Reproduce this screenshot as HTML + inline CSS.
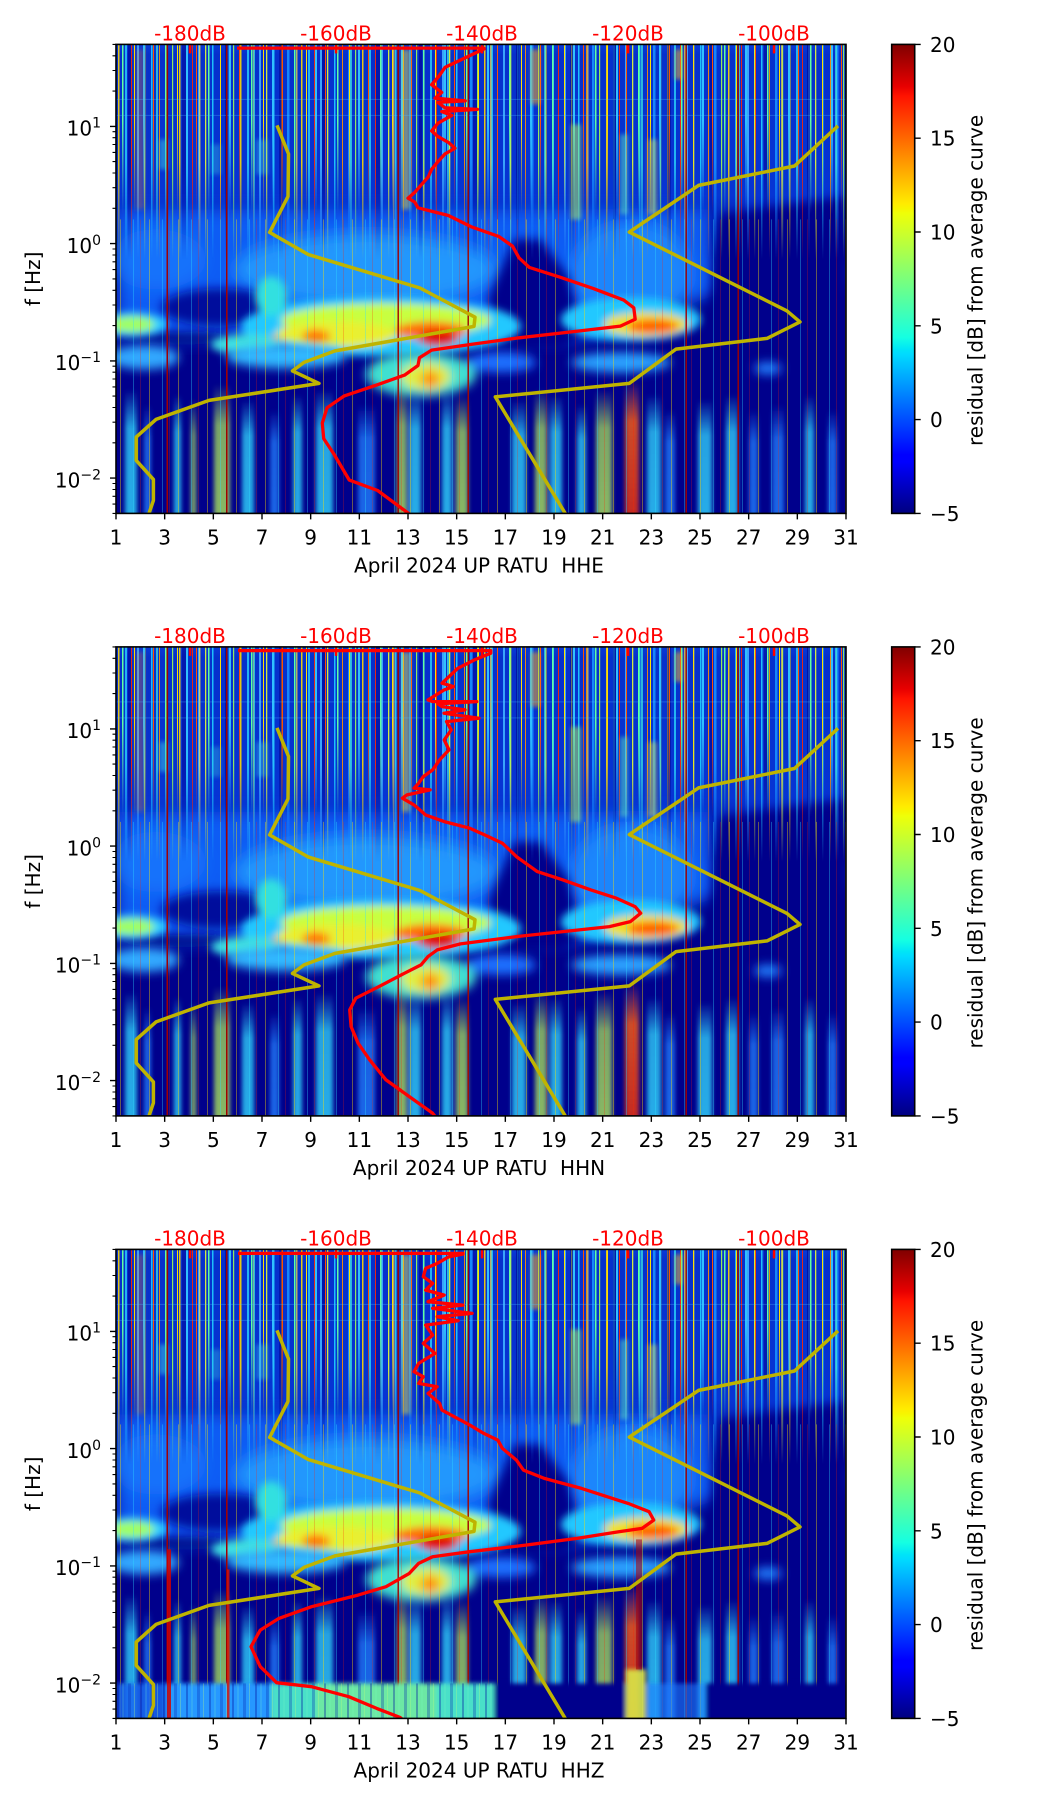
<!DOCTYPE html>
<html><head><meta charset="utf-8">
<style>
html,body{margin:0;padding:0;background:#fff;}
svg{display:block;}
text{font-family:"DejaVu Sans","Liberation Sans",sans-serif;font-size:20px;fill:#000;}
</style></head><body>
<svg width="1052" height="1806" viewBox="0 0 1052 1806" xmlns="http://www.w3.org/2000/svg">
<defs>
 <clipPath id="plot"><rect x="0" y="0" width="730" height="469"/></clipPath>
 <filter id="b8" x="-50%" y="-50%" width="200%" height="200%"><feGaussianBlur stdDeviation="8"/></filter>
 <filter id="b5" x="-50%" y="-50%" width="200%" height="200%"><feGaussianBlur stdDeviation="5"/></filter>
 <filter id="b4" x="-50%" y="-50%" width="200%" height="200%"><feGaussianBlur stdDeviation="4"/></filter>
 <filter id="b2" x="-50%" y="-50%" width="200%" height="200%"><feGaussianBlur stdDeviation="2.2"/></filter>
 <linearGradient id="jet" x1="0" y1="1" x2="0" y2="0">
  <stop offset="0" stop-color="#000080"/>
  <stop offset="0.11" stop-color="#0000ff"/>
  <stop offset="0.125" stop-color="#0000ff"/>
  <stop offset="0.34" stop-color="#00dbff"/>
  <stop offset="0.35" stop-color="#00e5f7"/>
  <stop offset="0.375" stop-color="#15ffe2"/>
  <stop offset="0.5" stop-color="#7bff7b"/>
  <stop offset="0.64" stop-color="#efff08"/>
  <stop offset="0.65" stop-color="#f7f500"/>
  <stop offset="0.66" stop-color="#ffec00"/>
  <stop offset="0.89" stop-color="#ff1300"/>
  <stop offset="0.91" stop-color="#e80000"/>
  <stop offset="1" stop-color="#800000"/>
 </linearGradient>
 <linearGradient id="topg" x1="0" y1="0" x2="0" y2="210" gradientUnits="userSpaceOnUse">
  <stop offset="0" stop-color="#0a3ad8"/>
  <stop offset="0.05" stop-color="#0630cc"/>
  <stop offset="0.72" stop-color="#0634d4"/>
  <stop offset="1" stop-color="#0a40e0" stop-opacity="0"/>
 </linearGradient>
 <linearGradient id="mg1" x1="0" y1="0" x2="0" y2="215" gradientUnits="userSpaceOnUse">
  <stop offset="0" stop-color="#fff"/>
  <stop offset="0.55" stop-color="#fff"/>
  <stop offset="1" stop-color="#000"/>
 </linearGradient>
 <linearGradient id="mg2" x1="0" y1="0" x2="0" y2="170" gradientUnits="userSpaceOnUse">
  <stop offset="0" stop-color="#fff"/>
  <stop offset="0.45" stop-color="#fff"/>
  <stop offset="1" stop-color="#000"/>
 </linearGradient>
 <mask id="m1" maskUnits="userSpaceOnUse" x="0" y="0" width="730" height="469"><rect x="0" y="0" width="730" height="469" fill="url(#mg1)"/></mask>
 <mask id="m2" maskUnits="userSpaceOnUse" x="0" y="0" width="730" height="469"><rect x="0" y="0" width="730" height="469" fill="url(#mg2)"/></mask>
 <linearGradient id="fc" x1="0" y1="0" x2="0" y2="1"><stop offset="0" stop-color="#30d8ff" stop-opacity="0"/><stop offset="0.3" stop-color="#30d8ff" stop-opacity="0.75"/><stop offset="1" stop-color="#30d8ff" stop-opacity="0.8"/></linearGradient>
 <linearGradient id="fy" x1="0" y1="0" x2="0" y2="1"><stop offset="0" stop-color="#b0ec58" stop-opacity="0"/><stop offset="0.3" stop-color="#b0ec58" stop-opacity="0.7"/><stop offset="1" stop-color="#b0ec58" stop-opacity="0.78"/></linearGradient>
 <linearGradient id="fb" x1="0" y1="0" x2="0" y2="1"><stop offset="0" stop-color="#2080ff" stop-opacity="0"/><stop offset="0.3" stop-color="#2080ff" stop-opacity="0.75"/><stop offset="1" stop-color="#2080ff" stop-opacity="0.8"/></linearGradient>
 <linearGradient id="fo" x1="0" y1="0" x2="0" y2="1"><stop offset="0" stop-color="#ff7020" stop-opacity="0"/><stop offset="0.3" stop-color="#ff6010" stop-opacity="0.8"/><stop offset="1" stop-color="#e83010" stop-opacity="0.85"/></linearGradient>
 <pattern id="st1" patternUnits="userSpaceOnUse" width="61" height="469">
  <rect x="2" width="1.5" height="469" fill="#ffd800"/>
  <rect x="9" width="2" height="469" fill="#30e8ff" opacity=".8"/>
  <rect x="15" width="1" height="469" fill="#ff2800"/>
  <rect x="21" width="2" height="469" fill="#40b0ff"/>
  <rect x="28" width="1.3" height="469" fill="#e8ff30"/>
  <rect x="35" width="1.5" height="469" fill="#20d0ff"/>
  <rect x="43" width="1" height="469" fill="#ff9000"/>
  <rect x="49" width="2.5" height="469" fill="#1890ff"/>
  <rect x="56" width="1.2" height="469" fill="#a0ff50"/>
 </pattern>
 <pattern id="st2" patternUnits="userSpaceOnUse" width="43" height="469">
  <rect x="6" width="1.5" height="469" fill="#60ffa0"/>
  <rect x="18" width="1" height="469" fill="#ffe000"/>
  <rect x="27" width="2" height="469" fill="#30c0ff"/>
  <rect x="37" width="1" height="469" fill="#ff5000"/>
 </pattern>
 <pattern id="st4" patternUnits="userSpaceOnUse" width="97" height="469">
  <rect x="12" width="3" height="469" fill="#000090" opacity=".6"/>
  <rect x="40" width="2" height="469" fill="#40f0e0" opacity=".7"/>
  <rect x="66" width="4" height="469" fill="#000090" opacity=".5"/>
  <rect x="83" width="1.5" height="469" fill="#ffe040" opacity=".7"/>
 </pattern>
 <pattern id="st3" patternUnits="userSpaceOnUse" width="29" height="469">
  <rect x="4" width="1" height="469" fill="#ffe000" opacity=".4"/>
  <rect x="17" width="1" height="469" fill="#30e0ff" opacity=".35"/>
  <rect x="24" width="0.8" height="469" fill="#ff2000" opacity=".3"/>
 </pattern>
 <pattern id="nv" patternUnits="userSpaceOnUse" width="23" height="469">
  <rect x="1" width="2" height="469" fill="#0010a0" opacity=".35"/>
  <rect x="6.5" width="1" height="469" fill="#80ffc0" opacity=".3"/>
  <rect x="12" width="3" height="469" fill="#0020b0" opacity=".3"/>
  <rect x="18" width="1" height="469" fill="#c0ff80" opacity=".3"/>
 </pattern>

 <g id="bg">
  <rect x="0" y="0" width="730" height="469" fill="#00008c"/>
  <rect x="0" y="0" width="730" height="210" fill="url(#topg)"/>
  <g filter="url(#b8)">
   <polygon points="0,165 592,165 602,250 470,295 0,295" fill="#0c5cf4"/>
   <ellipse cx="250" cy="225" rx="130" ry="35" fill="#2aa6ff" opacity=".8"/>
   <ellipse cx="515" cy="228" rx="60" ry="50" fill="#2094ff" opacity=".75"/>
   <ellipse cx="40" cy="215" rx="50" ry="30" fill="#1a80ff" opacity=".6"/>
   <ellipse cx="690" cy="228" rx="45" ry="22" fill="#0840d0" opacity=".45"/>
  </g>
  <g filter="url(#b5)">
   <polygon points="398,195 425,195 452,232 468,290 445,305 385,305 372,255" fill="#00008c"/>
   <polygon points="604,170 730,152 730,469 585,469 583,300 596,245" fill="#00008c"/>
   <ellipse cx="105" cy="263" rx="60" ry="19" fill="#00109c"/>
   <ellipse cx="60" cy="294" rx="62" ry="6" fill="#00108c"/>
   <rect x="0" y="335" width="730" height="140" fill="#00008c"/>
  </g>
  <g filter="url(#b4)">
   <ellipse cx="265" cy="282" rx="140" ry="30" fill="#20c8ff"/>
   <ellipse cx="270" cy="276" rx="105" ry="17" fill="#c8ff40"/>
   <ellipse cx="220" cy="290" rx="60" ry="13" fill="#e8f030"/>
   <ellipse cx="155" cy="252" rx="16" ry="20" fill="#30e0e0"/>
   <ellipse cx="16" cy="280" rx="35" ry="12" fill="#30d0ff"/>
   <ellipse cx="16" cy="280" rx="22" ry="8" fill="#a0ff60"/>
   <ellipse cx="315" cy="286" rx="36" ry="9" fill="#ff7000"/>
   <ellipse cx="322" cy="294" rx="20" ry="8" fill="#e01000"/>
   <ellipse cx="200" cy="292" rx="14" ry="7" fill="#ff8000"/>
   <ellipse cx="156" cy="298" rx="10" ry="6" fill="#ff3000"/>
   <ellipse cx="130" cy="300" rx="35" ry="10" fill="#40e0e0"/>
   <ellipse cx="515" cy="275" rx="70" ry="22" fill="#20c8ff"/>
   <ellipse cx="530" cy="280" rx="42" ry="12" fill="#f0e020"/>
   <ellipse cx="537" cy="282" rx="25" ry="7" fill="#ff6000"/>
  </g>
  <g filter="url(#b5)">
   <ellipse cx="28" cy="313" rx="35" ry="12" fill="#30a8ff"/>
   <ellipse cx="170" cy="312" rx="60" ry="12" fill="#30b8ff"/>
   <ellipse cx="385" cy="318" rx="35" ry="10" fill="#1e70ff"/>
   <ellipse cx="305" cy="330" rx="55" ry="22" fill="#40e0d0"/>
   <ellipse cx="310" cy="332" rx="25" ry="14" fill="#e0f040"/>
   <ellipse cx="314" cy="335" rx="10" ry="8" fill="#ff9000"/>
   <ellipse cx="505" cy="318" rx="50" ry="10" fill="#2aa0ff"/>
   <ellipse cx="652" cy="324" rx="14" ry="6" fill="#2080ff"/>
  </g>
  <g filter="url(#b2)">
   <rect x="9" y="345" width="12" height="130" fill="url(#fc)"/>
   <rect x="28" y="360" width="7" height="115" fill="url(#fb)"/>
   <rect x="58" y="350" width="7" height="125" fill="url(#fc)"/>
   <rect x="75" y="355" width="5" height="120" fill="url(#fy)"/>
   <rect x="98" y="340" width="16" height="135" fill="url(#fy)"/>
   <rect x="126" y="355" width="12" height="120" fill="url(#fc)"/>
   <rect x="154" y="365" width="9" height="110" fill="url(#fb)"/>
   <rect x="177" y="350" width="9" height="125" fill="url(#fc)"/>
   <rect x="200" y="345" width="17" height="130" fill="url(#fc)"/>
   <rect x="242" y="360" width="17" height="115" fill="url(#fb)"/>
   <rect x="281" y="340" width="10" height="135" fill="url(#fy)"/>
   <rect x="293" y="345" width="12" height="130" fill="url(#fc)"/>
   <rect x="326" y="345" width="10" height="130" fill="url(#fc)"/>
   <rect x="340" y="350" width="12" height="125" fill="url(#fy)"/>
   <rect x="396" y="355" width="14" height="120" fill="url(#fc)"/>
   <rect x="419" y="345" width="12" height="130" fill="url(#fy)"/>
   <rect x="434" y="350" width="12" height="125" fill="url(#fc)"/>
   <rect x="461" y="360" width="9" height="115" fill="url(#fc)"/>
   <rect x="480" y="345" width="16" height="130" fill="url(#fy)"/>
   <rect x="509" y="335" width="14" height="140" fill="url(#fo)"/>
   <rect x="531" y="350" width="14" height="125" fill="url(#fc)"/>
   <rect x="549" y="365" width="10" height="110" fill="url(#fb)"/>
   <rect x="582" y="355" width="14" height="120" fill="url(#fc)"/>
   <rect x="610" y="350" width="12" height="125" fill="url(#fc)"/>
   <rect x="633" y="365" width="9" height="110" fill="url(#fb)"/>
   <rect x="656" y="360" width="12" height="115" fill="url(#fb)"/>
   <rect x="689" y="350" width="9" height="125" fill="url(#fc)"/>
   <rect x="712" y="365" width="9" height="110" fill="url(#fb)"/>
  </g>
  <g mask="url(#m1)">
   <rect x="0" y="0" width="730" height="215" fill="url(#st1)" opacity=".9"/>
   <rect x="0" y="0" width="730" height="215" fill="url(#st4)"/>
  </g>
  <g mask="url(#m2)">
   <rect x="0" y="0" width="730" height="170" fill="url(#st2)"/>
  </g>
  <rect x="0" y="175" width="730" height="294" fill="url(#st3)"/>
  <g filter="url(#b2)">
   <rect x="286" y="5" width="8" height="160" fill="#f0f040" opacity=".5"/>
   <rect x="415" y="5" width="9" height="55" fill="#ffb020" opacity=".55"/>
   <rect x="455" y="80" width="10" height="95" fill="#c0ff50" opacity=".5"/>
   <rect x="504" y="90" width="8" height="80" fill="#60f0c0" opacity=".5"/>
   <rect x="532" y="95" width="9" height="75" fill="#f0f040" opacity=".45"/>
   <rect x="559" y="5" width="7" height="30" fill="#ffc020" opacity=".55"/>
   <rect x="20" y="5" width="8" height="160" fill="#ff8020" opacity=".3"/>
   <rect x="43" y="95" width="9" height="30" fill="#40e0e0" opacity=".45"/>
   <rect x="140" y="95" width="12" height="35" fill="#40d0e0" opacity=".4"/>
   <rect x="95" y="100" width="10" height="30" fill="#40d0e0" opacity=".35"/>
  </g>
  <rect x="0" y="54.5" width="730" height="1" fill="#50c8ff" opacity=".3"/>
  <rect x="0" y="70.5" width="730" height="1" fill="#50c8ff" opacity=".3"/>
  <g fill="#a00000">
   <rect x="50.5" y="0" width="1.6" height="469"/>
   <rect x="110" y="0" width="1.4" height="469"/>
   <rect x="281.5" y="0" width="1.4" height="469"/>
   <rect x="351.5" y="0" width="1.4" height="469"/>
   <rect x="569.5" y="0" width="1.4" height="469"/>
   <rect x="621.5" y="0" width="1.4" height="469"/>
  </g>
 </g>

 <g id="models" fill="none" stroke="#bfb400" stroke-width="3.5" stroke-linejoin="round">
  <polyline points="161,81 172.5,109.5 172,152 153.6,188 192,210 304,243.6 359,272.8 358,282 219,306.5 188,318 176.5,326.5 203,339 93,356 40,375 20.2,392.7 20.2,416 37.4,435 37.4,456 32,472"/>
  <polyline points="722,81.5 678.5,121.6 582.5,141 513.3,187.7 671,266.5 684,277.5 651,294 560,304.7 513.3,339 379.3,352.5 451,472"/>
 </g>
 <g id="dbt" fill="#ff0000">
  <rect x="72.8" y="0" width="2.5" height="9"/>
  <rect x="218.8" y="0" width="2.5" height="9"/>
  <rect x="364.8" y="0" width="2.5" height="9"/>
  <rect x="510.8" y="0" width="2.5" height="9"/>
  <rect x="656.8" y="0" width="2.5" height="9"/>
 </g>

 <g id="axes">
  <rect x="0" y="0" width="730" height="469" fill="none" stroke="#000" stroke-width="1.6"/>
  <g stroke="#000" stroke-width="1.4">
   <path d="M0,469v6M48.67,469v6M97.33,469v6M146,469v6M194.67,469v6M243.33,469v6M292,469v6M340.67,469v6M389.33,469v6M438,469v6M486.67,469v6M535.33,469v6M584,469v6M632.67,469v6M681.33,469v6M730,469v6"/>
   <path d="M0,82h-6M0,199.2h-6M0,316.5h-6M0,433.7h-6"/>
   <path stroke-width="1.1" d="M0,469h-3.5M0,459.7h-3.5M0,451.9h-3.5M0,445.1h-3.5M0,439.1h-3.5M0,398.4h-3.5M0,377.8h-3.5M0,363.1h-3.5M0,351.7h-3.5M0,342.5h-3.5M0,334.6h-3.5M0,327.8h-3.5M0,321.8h-3.5M0,281.2h-3.5M0,260.6h-3.5M0,245.9h-3.5M0,234.5h-3.5M0,225.2h-3.5M0,217.4h-3.5M0,210.6h-3.5M0,204.6h-3.5M0,163.9h-3.5M0,143.3h-3.5M0,128.6h-3.5M0,117.2h-3.5M0,108h-3.5M0,100.1h-3.5M0,93.3h-3.5M0,87.3h-3.5M0,46.7h-3.5M0,26.1h-3.5M0,11.4h-3.5M0,0h-3.5"/>
   <path d="M798.7,0h6M798.7,93.8h6M798.7,187.6h6M798.7,281.4h6M798.7,375.2h6M798.7,469h6"/>
  </g>
  <g text-anchor="middle">
   <text x="0" y="500">1</text><text x="48.67" y="500">3</text><text x="97.33" y="500">5</text><text x="146" y="500">7</text>
   <text x="194.67" y="500">9</text><text x="243.33" y="500">11</text><text x="292" y="500">13</text><text x="340.67" y="500">15</text>
   <text x="389.33" y="500">17</text><text x="438" y="500">19</text><text x="486.67" y="500">21</text><text x="535.33" y="500">23</text>
   <text x="584" y="500">25</text><text x="632.67" y="500">27</text><text x="681.33" y="500">29</text><text x="730" y="500">31</text>
  </g>
  <g text-anchor="middle">
   <text x="74" y="-4" style="fill:#ff0000">-180dB</text>
   <text x="220" y="-4" style="fill:#ff0000">-160dB</text>
   <text x="366" y="-4" style="fill:#ff0000">-140dB</text>
   <text x="512" y="-4" style="fill:#ff0000">-120dB</text>
   <text x="658" y="-4" style="fill:#ff0000">-100dB</text>
  </g>
  <g text-anchor="end">
   <text x="-15" y="91.3">10<tspan dy="-8" font-size="14">1</tspan></text>
   <text x="-15" y="208.5">10<tspan dy="-8" font-size="14">0</tspan></text>
   <text x="-15" y="325.8">10<tspan dy="-8" font-size="14">−1</tspan></text>
   <text x="-15" y="443">10<tspan dy="-8" font-size="14">−2</tspan></text>
  </g>
  <text transform="translate(-76,234.5) rotate(-90)" text-anchor="middle">f [Hz]</text>
  <rect x="775.7" y="0" width="23" height="469" fill="url(#jet)" stroke="#000" stroke-width="1.6"/>
  <g>
   <text x="814" y="7.5">20</text>
   <text x="814" y="101.3">15</text>
   <text x="814" y="195.1">10</text>
   <text x="814" y="288.9">5</text>
   <text x="814" y="382.7">0</text>
   <text x="814" y="476.5">−5</text>
  </g>
  <text transform="translate(866.5,236) rotate(-90)" text-anchor="middle">residual [dB] from average curve</text>
 </g>
</defs>

<!-- Panel 1: HHE -->
<g transform="translate(116,44.4)">
 <g clip-path="url(#plot)">
  <use href="#bg"/>
  <use href="#models"/>
  <polyline fill="none" stroke="#ff0000" stroke-width="3.3" stroke-linejoin="round" points="121,3.7 368,3.7 368.2,4.5 349.3,13.4 329,23 322.3,32.6 315.6,40.3 325.7,48 319,53.8 349.3,56.5 322,58 329,63.4 361.4,65 325.7,67.2 335.8,71 322,78.8 315.6,86.5 322,92.2 332.4,98 339,103.8 329,109.5 322,117.2 315.6,124.9 312.2,132.6 305.4,140.3 298.7,148 292,153.8 298.7,157.6 302,163.4 332.4,171.1 356,182.7 383,192.2 396.5,201.7 403,213.4 413.3,223 443.7,232.7 477.4,244.2 507.7,255.7 517.8,263.4 519.2,274.9 504.4,281.7 464,286.5 403.2,293.4 356,299.9 315.6,305.7 303.4,313.4 302,321.1 288.6,330.7 261.6,340.3 227.9,351.7 211,363.4 206.3,378.7 207.7,394.2 217.8,409.5 233.3,435.7 261.6,446.1 298,473"/>
  <use href="#dbt"/>
 </g>
 <use href="#axes"/>
 <text x="363" y="528" text-anchor="middle">April 2024 UP RATU&#160; HHE</text>
</g>

<!-- Panel 2: HHN -->
<g transform="translate(116,646.9)">
 <g clip-path="url(#plot)">
  <use href="#bg"/>
  <use href="#models"/>
  <polyline fill="none" stroke="#ff0000" stroke-width="3.3" stroke-linejoin="round" points="122,3.7 374.8,3.7 374.8,6.3 358.5,13 342,21.3 333,29.7 326,36.3 337.5,39.7 328.2,43 312,53 316.6,54.7 360.8,54.7 322,57 326,59.7 349,63 328,66.3 363,71.3 330.5,74.7 335.2,83 328.2,93 333,103 323.6,113 316.6,123 307.3,129.7 302.6,136.3 298,141.3 314.2,143 291,148 286.3,151.3 298,158 309.6,168 328.2,174.7 353.8,181.3 372.4,189.7 386.4,196.3 400.4,209.7 421.3,224.7 447,233 474.9,243 500.5,251.3 519.1,259.7 524.7,266.3 514.4,274.7 493.5,279.7 447,284.7 400.4,289.7 344.5,297 321.2,303 312,309.7 305,318 288.6,326.3 263,339.7 239.8,351.3 233.7,363 235.1,379.7 242.1,396.3 253.7,413 270,433 293.3,449.7 316.6,466.3 321,472"/>
  <use href="#dbt"/>
 </g>
 <use href="#axes"/>
 <text x="363" y="528" text-anchor="middle">April 2024 UP RATU&#160; HHN</text>
</g>

<!-- Panel 3: HHZ -->
<g transform="translate(116,1249.4)">
 <g clip-path="url(#plot)">
  <use href="#bg"/>
  <g filter="url(#b2)">
   <rect x="0" y="434" width="50" height="40" fill="#1a68f0" opacity=".85"/>
   <rect x="50" y="434" width="105" height="40" fill="#2898ff"/>
   <rect x="155" y="434" width="223" height="40" fill="#48e0c8"/>
   <rect x="200" y="434" width="120" height="40" fill="#90f080" opacity=".5"/>
   <rect x="378" y="434" width="132" height="40" fill="#00008c"/>
   <rect x="510" y="420" width="20" height="54" fill="#d8e848" opacity=".9"/>
   <rect x="530" y="434" width="60" height="40" fill="#2080ff" opacity=".6"/>
   <rect x="590" y="434" width="140" height="40" fill="#00008c"/>
  </g>
  <rect x="0" y="434" width="378" height="35" fill="url(#nv)"/>
  <rect x="51" y="300" width="4" height="169" fill="#d00000" opacity=".85"/>
  <rect x="111" y="320" width="2.5" height="149" fill="#e01000" opacity=".8"/>
  <rect x="520" y="290" width="6" height="130" fill="#b00000" opacity=".55"/>
  <use href="#models"/>
  <polyline fill="none" stroke="#ff0000" stroke-width="3.3" stroke-linejoin="round" points="122,4 346.8,4 346.8,4.7 332.9,7.3 321.2,14 309.6,19 307.3,27.3 316.6,34 309.6,40.7 328.2,45.7 312,52.3 346.8,55.7 316.6,59 356.1,64 321.2,67.3 342.2,71.3 309.6,75.7 316.6,85.7 307.3,94 319,104 302.6,114 298,122.3 307.3,127.3 302.6,134 321.2,137.3 312,144 323.6,154 325.9,160.7 335.2,165.7 353.8,175.7 367.8,184 381.8,190.7 386.4,199 400.4,210.7 407.4,220.7 428.3,229 465.5,239 512.1,254 533.1,262.3 537.7,270.7 526.1,279 502.8,282.3 460.9,289 409.7,295.7 353.8,302.3 316.6,307.3 302.6,314 293.3,324 270,337.3 242.1,345.7 195.5,357.3 162.9,369 144.3,380.7 135,397.3 144.3,417.3 160.6,433.3 195.5,437.3 232.8,447.3 260.7,459 284,468 290,473"/>
  <use href="#dbt"/>
 </g>
 <use href="#axes"/>
 <text x="363" y="528" text-anchor="middle">April 2024 UP RATU&#160; HHZ</text>
</g>
</svg>
</body></html>
